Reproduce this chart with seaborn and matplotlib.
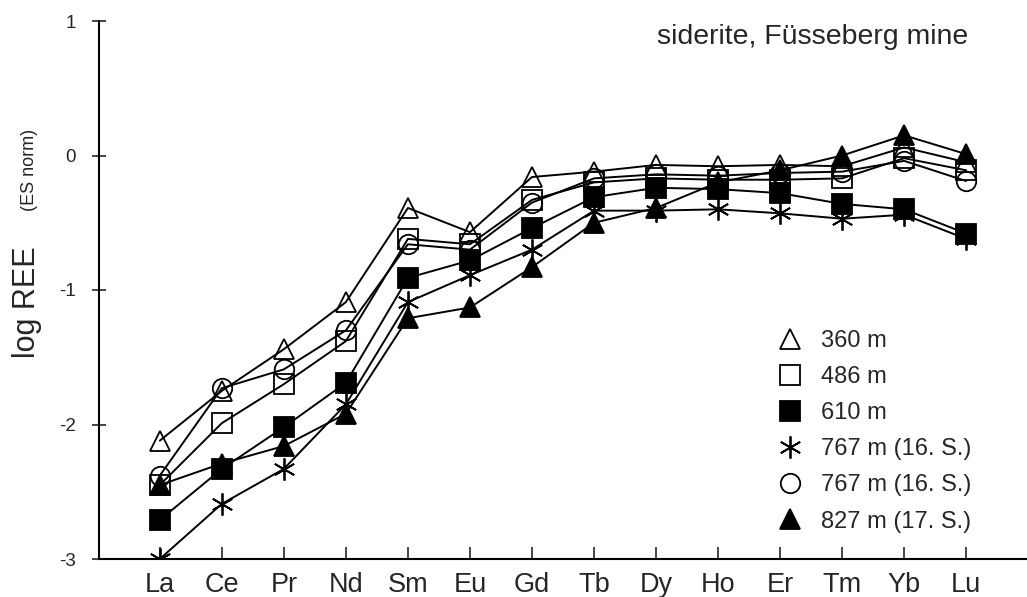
import pandas as pd
import matplotlib
matplotlib.use("Agg")
import matplotlib.pyplot as plt
from matplotlib.lines import Line2D
import seaborn as sns

# REE normalisation pattern, siderite from the Füsseberg mine
elements = ["La", "Ce", "Pr", "Nd", "Sm", "Eu", "Gd", "Tb", "Dy", "Ho", "Er", "Tm", "Yb", "Lu"]

ree_360 = [-2.12, -1.75, -1.44, -1.09, -0.39, -0.57, -0.16, -0.12, -0.07, -0.08, -0.07, -0.08, 0.06, -0.05]
ree_486 = [-2.45, -1.99, -1.70, -1.38, -0.62, -0.66, -0.33, -0.20, -0.17, -0.18, -0.18, -0.17, -0.02, -0.11]
ree_610 = [-2.71, -2.33, -2.02, -1.69, -0.91, -0.78, -0.54, -0.31, -0.24, -0.25, -0.28, -0.36, -0.40, -0.58]
ree_767a = [-3.00, -2.59, -2.33, -1.85, -1.09, -0.89, -0.70, -0.41, -0.41, -0.40, -0.43, -0.47, -0.44, -0.62]
ree_767b = [-2.38, -1.73, -1.59, -1.30, -0.66, -0.70, -0.35, -0.17, -0.14, -0.15, -0.13, -0.12, -0.04, -0.19]
ree_827 = [-2.45, -2.29, -2.16, -1.92, -1.21, -1.13, -0.83, -0.50, -0.39, -0.20, -0.11, 0.00, 0.15, 0.01]

labels = ["360 m", "486 m", "610 m", "767 m (16. S.)", "767 m (16. S.)", "827 m (17. S.)"]
series = [ree_360, ree_486, ree_610, ree_767a, ree_767b, ree_827]

# marker, face colour, size
styles = [
    ("^", "none", 15),
    ("s", "none", 14),
    ("s", "black", 14),
    ((6, 2, 0), "black", 16),
    ("o", "none", 14),
    ("^", "black", 15),
]

sns.set_style("ticks")
plt.rcParams["font.family"] = ["Liberation Sans", "DejaVu Sans"]
plt.rcParams["axes.unicode_minus"] = False

W, H = 1027, 597
fig = plt.figure(figsize=(W / 100, H / 100), dpi=100)
ax = fig.add_axes([99 / W, 1 - 559 / H, (W - 99) / W, (559 - 21) / H])

pos = list(range(len(elements)))
for lab, vals, (mk, fc, ms) in zip(labels, series, styles):
    df = pd.DataFrame({"pos": pos, "val": vals})
    sns.lineplot(data=df, x="pos", y="val", ax=ax, color="black", lw=1.4,
                 marker=mk, markersize=ms, markerfacecolor=fc,
                 markeredgecolor="black", markeredgewidth=1.3, legend=False)

ax.set_xlim(-0.98, 13.98)
ax.set_ylim(-3, 1)
ax.set_xticks(pos)
ax.set_xticklabels(elements, fontsize=19.5)
ax.set_yticks([-3, -2, -1, 0, 1])
ax.set_yticklabels(["-3", "-2", "-1", "0", "1"], fontsize=13.5)
ax.tick_params(axis="x", direction="in", length=9, width=1.2, pad=9)
ax.tick_params(axis="y", direction="inout", length=10, width=1.2, pad=11.5)
ax.set_xlabel("")
ax.set_ylabel("")
for s in ["top", "right"]:
    ax.spines[s].set_visible(False)
for s in ["left", "bottom"]:
    ax.spines[s].set_linewidth(1.5)
    ax.spines[s].set_color("black")

fig.text(27 / W, 1 - 302 / H, "log REE", rotation=90, fontsize=22,
         ha="center", va="center")
fig.text(30 / W, 1 - 170 / H, "(ES norm)", rotation=90, fontsize=13,
         ha="center", va="center")
fig.text(813 / W, 1 - 37 / H, "siderite, Füsseberg mine", fontsize=20.5,
         ha="center", va="center")

handles = [Line2D([], [], ls="none", color="black", marker=mk, markersize=ms,
                  markerfacecolor=fc, markeredgecolor="black", markeredgewidth=1.3)
           for (mk, fc, ms) in styles]
ax.legend(handles, labels, loc="upper left", bbox_to_anchor=(766 / W, 1 - 318 / H),
          bbox_transform=fig.transFigure, frameon=False, fontsize=17,
          handlelength=1.0, handletextpad=0.85, labelspacing=0.6, borderpad=0)

fig.savefig("out.png", dpi=100, facecolor="white")
